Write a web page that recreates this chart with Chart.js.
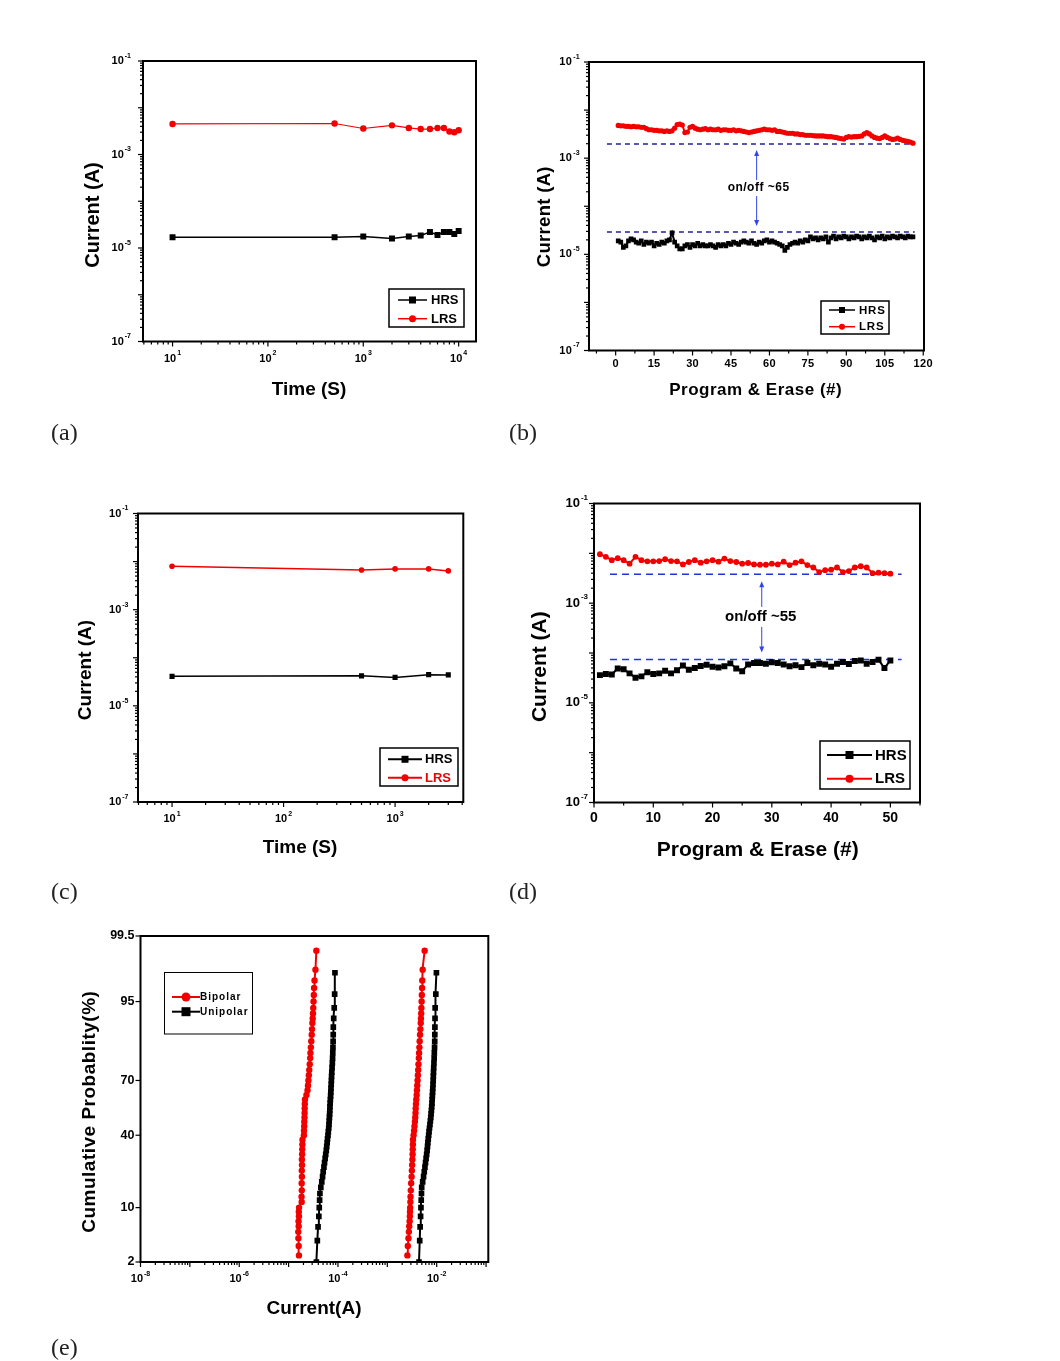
<!DOCTYPE html>
<html>
<head>
<meta charset="utf-8">
<script src="https://cdn.jsdelivr.net/npm/chart.js@4.4.1/dist/chart.umd.min.js"></script>
<style>
  html, body { margin: 0; padding: 0; background: #fff; }
  #page { position: relative; width: 1060px; height: 1361px; overflow: hidden; background: #fff; }
  #page canvas { position: absolute; left: 0; top: 0; }
  .tag { position: absolute; font-family: "Liberation Serif", serif; font-size: 24px; line-height: 24px; color: #222; }
</style>
</head>
<body>
<div id="page">
  <canvas id="panelA" width="1060" height="1361"></canvas>
  <canvas id="panelB" width="1060" height="1361"></canvas>
  <canvas id="panelC" width="1060" height="1361"></canvas>
  <canvas id="panelD" width="1060" height="1361"></canvas>
  <canvas id="panelE" width="1060" height="1361"></canvas>
  <div class="tag" style="left:51px;top:420px">(a)</div>
  <div class="tag" style="left:509px;top:420px">(b)</div>
  <div class="tag" style="left:51px;top:879px">(c)</div>
  <div class="tag" style="left:509px;top:879px">(d)</div>
  <div class="tag" style="left:51px;top:1335px">(e)</div>
</div>
<script>
// ---- data ----
// (a) retention, time in s; HRS in 1e-5 A, LRS in 1e-3 A
const timeA = [10, 500, 1000, 2000, 3000, 4000, 5000, 6000, 7000, 8000, 9000, 10000];
const hrsA = [1.7, 1.7, 1.77, 1.6, 1.77, 1.85, 2.2, 1.9, 2.2, 2.2, 2.0, 2.3];
const lrsA = [4.5, 4.6, 3.6, 4.2, 3.7, 3.5, 3.5, 3.7, 3.7, 3.1, 3.0, 3.3];

// (b) endurance, 116 cycles; HRS in 1e-5 A, LRS in 1e-3 A
const hrsB = [
  1.9, 1.8, 1.4, 1.5, 1.9, 2.1, 2.0, 1.8, 1.7, 1.9,
  1.6, 1.8, 1.7, 1.8, 1.5, 1.7, 1.6, 1.8, 1.7, 1.9,
  2.0, 2.8, 1.8, 1.5, 1.3, 1.3, 1.5, 1.6, 1.4, 1.6,
  1.5, 1.7, 1.5, 1.6, 1.5, 1.5, 1.6, 1.5, 1.4, 1.6,
  1.5, 1.6, 1.5, 1.7, 1.6, 1.8, 1.7, 1.6, 1.8, 1.9,
  1.8, 1.7, 1.9, 1.7, 1.6, 1.8, 1.7, 1.9, 2.0, 1.8,
  1.9, 1.8, 1.7, 1.6, 1.5, 1.2, 1.4, 1.6, 1.7, 1.8,
  1.7, 1.9, 1.8, 2.0, 1.9, 2.3, 2.1, 2.2, 2.0, 2.2,
  2.1, 2.3, 1.8, 2.2, 2.4, 2.1, 2.3, 2.2, 2.4, 2.3,
  2.1, 2.3, 2.2, 2.4, 2.3, 2.1, 2.3, 2.2, 2.4, 2.2,
  2.0, 2.3, 2.2, 2.4, 2.1, 2.3, 2.2, 2.4, 2.3, 2.2,
  2.4, 2.3, 2.2, 2.4, 2.3, 2.3,
];
const lrsB = [
  4.8, 4.7, 4.7, 4.6, 4.6, 4.5, 4.6, 4.5, 4.5, 4.4, 4.4,
  4.1, 3.9, 3.9, 3.8, 3.8, 3.7, 3.7, 3.6, 3.7, 3.6, 3.7,
  4.2, 5.0, 5.1, 4.9, 3.4, 3.5, 4.4, 4.6, 4.2,
  4.0, 3.9, 4.0, 4.1, 3.9, 4.0, 3.9, 3.9, 4.0, 3.8, 3.9, 3.9, 3.8, 3.8, 3.9, 3.7, 3.8, 3.7, 3.6,
  3.5, 3.4, 3.5, 3.6, 3.7,
  3.8, 3.9, 4.0, 3.9, 3.9, 3.8, 3.9,
  3.6, 3.6, 3.5, 3.4, 3.3, 3.3, 3.3, 3.2,
  3.2, 3.1, 3.1, 3.0, 3.0, 3.0, 2.95, 2.9, 2.9, 2.9,
  2.9, 2.85, 2.8, 2.8, 2.75, 2.7, 2.6, 2.55, 2.5,
  2.7, 2.8, 2.75, 2.8, 2.8, 2.85, 2.9,
  3.2, 3.4, 3.2,
  2.9, 2.7, 2.6, 2.55, 2.7,
  2.9, 2.7, 2.55, 2.45,
  2.5, 2.6, 2.45, 2.35,
  2.3, 2.25, 2.15, 2.05,
];
const onLevelB = 1.96e-3;
const offLevelB = 2.9e-5;
const guideSpanB = [-3.4, 116.7];
const arrowXB = 55;

// (c) retention; HRS in 1e-5 A, LRS in 1e-3 A
const timeC = [10, 500, 1000, 2000, 3000];
const hrsC = [4.1, 4.2, 3.9, 4.45, 4.4];
const lrsC = [8.0, 6.7, 7.05, 7.05, 6.4];

// (d) endurance, 50 cycles; HRS in 1e-5 A, LRS in 1e-3 A
const hrsD = [
  3.6, 3.8, 3.7, 4.9, 4.7, 3.9, 3.2, 3.4, 4.1, 3.8,
  3.9, 4.4, 3.9, 4.5, 5.6, 4.6, 5.0, 5.5, 5.8, 5.3,
  5.1, 5.4, 6.2, 4.9, 4.3, 5.9, 6.3, 6.3, 6.1, 6.5,
  6.3, 5.9, 5.4, 5.7, 5.2, 6.3, 5.7, 6.1, 5.9, 5.3,
  6.1, 6.6, 6.0, 6.9, 7.1, 6.1, 6.6, 7.3, 5.0, 7.1,
];
const lrsD = [
  9.6, 8.5, 7.3, 8.0, 7.3, 6.2, 8.5, 7.3, 6.9, 6.9,
  7.0, 7.6, 7.0, 6.9, 6.0, 6.7, 7.3, 6.5, 6.9, 7.3,
  6.8, 7.85, 7.0, 6.7, 6.2, 6.4, 6.0, 5.9, 5.9, 6.2,
  6.0, 6.8, 5.8, 6.5, 6.9, 5.8, 5.2, 4.2, 4.6, 4.7,
  5.2, 4.2, 4.4, 5.2, 5.5, 5.2, 4.0, 4.1, 4.0, 3.9,
];
const onLevelD = 3.8e-3;
const offLevelD = 7.4e-5;
const guideSpanD = [2.7, 51.9];
const arrowXD = 28.3;

// (e) cumulative probability (%) vs current
const probRed = [2.5, 3.4, 4.3, 5.2, 6.1, 7, 8, 9, 10, 11.5, 13, 15, 17.5, 20, 22.5, 25, 27.5, 30, 32.5, 35,
  37.5, 40, 42.5, 45, 47.5, 50, 52.5, 55, 57.5, 60, 62.5, 65, 67.5, 70, 72.5, 75, 77.5, 80, 82, 84,
  86, 88, 89.5, 91, 92, 93, 94, 95, 95.9, 96.7, 97.4, 98.2, 99.1];
const bipolarHighE = [1.62, 1.6, 1.58, 1.57, 1.6, 1.59, 1.62, 1.61, 1.63, 1.84, 1.83, 1.85, 1.84, 1.86, 1.85, 1.87, 1.86, 1.88, 1.89, 1.9,
  1.91, 2.04, 2.05, 2.07, 2.08, 2.1, 2.11, 2.12, 2.13, 2.15, 2.3, 2.42, 2.47, 2.52, 2.57, 2.62, 2.68, 2.74, 2.77, 2.83,
  2.88, 2.94, 2.98, 3.03, 3.08, 3.12, 3.16, 3.2, 3.24, 3.28, 3.35, 3.5, 3.65]; // 1e-5 A
const bipolarLowE = [2.55, 2.6, 2.68, 2.73, 2.78, 2.83, 2.86, 2.88, 2.9, 2.93, 2.95, 2.99, 3.04, 3.1, 3.14, 3.18, 3.22, 3.25, 3.27, 3.29,
  3.31, 3.4, 3.48, 3.55, 3.62, 3.68, 3.72, 3.75, 3.8, 3.86, 3.93, 3.98, 4.04, 4.1, 4.16, 4.22, 4.28, 4.35, 4.4, 4.46,
  4.52, 4.6, 4.68, 4.75, 4.8, 4.85, 4.9, 4.95, 5.0, 5.05, 5.1, 5.2, 5.7]; // 1e-3 A
const probBlack = [2, 4, 6, 8, 10, 12, 14, 16, 18, 20, 22, 24, 26, 28, 30, 32, 34, 36, 38, 40, 42, 44, 46, 48, 50,
  52, 54, 56, 58, 60, 62, 64, 66, 68, 70, 72, 74, 76, 78, 80, 82, 84, 86, 88, 90, 92, 94, 96, 98];
const unipolarHighE = [3.65, 3.82, 3.95, 4.1, 4.18, 4.25, 4.31, 4.5, 4.7, 4.88, 5.02, 5.2, 5.35, 5.5, 5.65, 5.8, 5.92, 6.05, 6.15, 6.28,
  6.38, 6.5, 6.58, 6.65, 6.72, 6.78, 6.84, 6.88, 6.95, 7.02, 7.1, 7.16, 7.22, 7.3, 7.36, 7.42, 7.5, 7.6, 7.7, 7.78,
  7.85, 7.92, 7.98, 8.02, 8.05, 8.2, 8.4, 8.57, 8.69]; // 1e-5 A
const unipolarLowE = [4.38, 4.53, 4.62, 4.72, 4.8, 4.86, 4.92, 4.97, 5.2, 5.42, 5.6, 5.78, 5.94, 6.1, 6.26, 6.4, 6.52, 6.62, 6.75, 6.88,
  7.0, 7.15, 7.3, 7.45, 7.58, 7.7, 7.82, 7.93, 8.02, 8.1, 8.18, 8.26, 8.33, 8.42, 8.5, 8.55, 8.62, 8.7, 8.8, 8.88,
  8.95, 9.05, 9.12, 9.16, 9.2, 9.25, 9.3, 9.6, 9.87]; // 1e-3 A

// tick labels
const currentTicks = [1e-7, 1e-5, 1e-3, 1e-1];
const timeTicksA = [10, 100, 1000, 10000];
const timeTicksC = [10, 100, 1000];
const cycleTicksB = [0, 15, 30, 45, 60, 75, 90, 105, 120];
const cycleTicksD = [0, 10, 20, 30, 40, 50];
const probTicks = [2, 10, 40, 70, 95, 99.5];
const currentTicksE = [1e-8, 1e-6, 1e-4, 1e-2];

// ---- helpers ----
const RED = "#f20000";
const FONT = '"Liberation Sans", Arial, sans-serif';

// inverse normal CDF (Acklam), used for the probability axis
function probit(p) {
  const a = [-39.69683028665376, 220.9460984245205, -275.9285104469687, 138.357751867269, -30.66479806614716, 2.506628277459239];
  const b = [-54.47609879822406, 161.5858368580409, -155.6989798598866, 66.80131188771972, -13.28068155288572];
  const c = [-0.007784894002430293, -0.3223964580411365, -2.400758277161838, -2.549732539343734, 4.374664141464968, 2.938163982698783];
  const d = [0.007784695709041462, 0.3224671290700398, 2.445134137142996, 3.754408661907416];
  const tail = (q) => (((((c[0] * q + c[1]) * q + c[2]) * q + c[3]) * q + c[4]) * q + c[5]) /
    ((((d[0] * q + d[1]) * q + d[2]) * q + d[3]) * q + 1);
  if (p < 0.02425) return tail(Math.sqrt(-2 * Math.log(p)));
  if (p > 1 - 0.02425) return -tail(Math.sqrt(-2 * Math.log(1 - p)));
  const q = p - 0.5;
  const r = q * q;
  return (((((a[0] * r + a[1]) * r + a[2]) * r + a[3]) * r + a[4]) * r + a[5]) * q /
    (((((b[0] * r + b[1]) * r + b[2]) * r + b[3]) * r + b[4]) * r + 1);
}

function logTicks(min, max, labelled) {
  const out = [];
  for (let e = Math.floor(Math.log10(min)); e <= Math.ceil(Math.log10(max)); e++) {
    for (let k = 1; k <= 9; k++) {
      const v = k * Math.pow(10, e);
      if (v < min * 0.999 || v > max * 1.001) continue;
      const t = { value: v, major: k === 1 };
      if (k === 1 && labelled.some((l) => Math.round(Math.log10(l)) === e)) {
        t.text = "10";
        t.sup = String(e);
      }
      out.push(t);
    }
  }
  return out;
}

function linTicks(min, max, minor, labelled) {
  const out = [];
  for (let v = Math.ceil(min / minor) * minor; v <= max + 1e-9; v += minor) {
    const val = Math.round(v * 1000) / 1000 + 0;
    const lab = labelled.includes(val);
    out.push({ value: val, major: lab, text: lab ? String(val) : undefined });
  }
  return out;
}

// hidden library scales: they map values, the decor plugin draws ticks
const logAxis = (min, max, labelled) => ({
  type: "logarithmic",
  display: false,
  min: min,
  max: max,
  ticks: { autoSkip: false },
  afterBuildTicks: (s) => { s.ticks = logTicks(min, max, labelled); },
});

const linAxis = (min, max, minor, labelled) => ({
  type: "linear",
  display: false,
  min: min,
  max: max,
  ticks: { autoSkip: false },
  afterBuildTicks: (s) => { s.ticks = linTicks(min, max, minor, labelled); },
});

const probAxis = () => ({
  type: "linear",
  display: false,
  min: probit(probTicks[0] / 100),
  max: probit(probTicks[probTicks.length - 1] / 100),
  ticks: { autoSkip: false },
  afterBuildTicks: (s) => {
    s.ticks = probTicks.map((p) => ({ value: probit(p / 100), major: true, text: String(p) }));
  },
});

const look = (color, style, width, radius) => ({
  borderColor: color,
  backgroundColor: color,
  pointBackgroundColor: color,
  pointBorderColor: color,
  pointBorderWidth: 0,
  pointStyle: style,
  borderWidth: width,
  pointRadius: radius,
  tension: 0,
});

const series = (label, xs, ys, unit, style) => ({
  label: label,
  data: xs.map((x, i) => ({ x: x, y: ys[i] * unit })),
  ...style,
});

const cycles = (values) => values.map((_, i) => i + 1);

const probSeries = (label, probs, currents, unit, style) => ({
  label: label,
  data: probs.map((p, i) => ({ x: currents[i] * unit, y: probit(p / 100) })),
  ...style,
});

const guide = (span, level, color, dash) => ({
  label: "",
  data: [{ x: span[0], y: level }, { x: span[1], y: level }],
  borderColor: color,
  borderDash: dash,
  borderWidth: 1.5,
  pointRadius: 0,
});

function tickText(ctx, t, x, y, align, font, o) {
  ctx.font = font;
  ctx.letterSpacing = o.tickSpacing || "0px";
  const wb = ctx.measureText(t.text).width;
  let ws = 0;
  if (t.sup) {
    ctx.font = o.supFont;
    ws = ctx.measureText(t.sup).width + 1;
  }
  const start = align === "right" ? x - wb - ws : x - (wb + ws) / 2;
  ctx.textAlign = "left";
  ctx.textBaseline = "middle";
  ctx.fillStyle = "#000";
  ctx.font = font;
  ctx.fillText(t.text, start, y);
  if (t.sup) {
    ctx.font = o.supFont;
    ctx.fillText(t.sup, start + wb + 1, y - o.supRise);
  }
  ctx.letterSpacing = "0px";
}

function marker(ctx, style, x, y, size, color) {
  ctx.fillStyle = color;
  ctx.beginPath();
  if (style === "rect") ctx.rect(x - size / 2, y - size / 2, size, size);
  else ctx.arc(x, y, size / 2, 0, Math.PI * 2);
  ctx.fill();
}

function drawArrow(chart, ar) {
  const ctx = chart.ctx;
  const px = chart.scales.x.getPixelForValue(ar.x);
  const yTop = chart.scales.y.getPixelForValue(ar.upper);
  const yBot = chart.scales.y.getPixelForValue(ar.lower);
  const mid = (yTop + yBot) / 2;
  const t0 = yTop + ar.inset;
  const t1 = yBot - ar.inset;
  ctx.strokeStyle = ar.color;
  ctx.fillStyle = ar.color;
  ctx.lineWidth = 1;
  ctx.beginPath();
  ctx.moveTo(px, t0 + 4);
  ctx.lineTo(px, mid - ar.gap);
  ctx.moveTo(px, mid + ar.gap);
  ctx.lineTo(px, t1 - 4);
  ctx.stroke();
  ctx.beginPath();
  ctx.moveTo(px, t0);
  ctx.lineTo(px - 2.5, t0 + 6);
  ctx.lineTo(px + 2.5, t0 + 6);
  ctx.closePath();
  ctx.fill();
  ctx.beginPath();
  ctx.moveTo(px, t1);
  ctx.lineTo(px - 2.5, t1 - 6);
  ctx.lineTo(px + 2.5, t1 - 6);
  ctx.closePath();
  ctx.fill();
  ctx.fillStyle = "#000";
  ctx.font = ar.font;
  ctx.letterSpacing = ar.spacing || "0px";
  ctx.textAlign = "center";
  ctx.textBaseline = "middle";
  ctx.fillText(ar.text, px + ar.dx, mid);
  ctx.letterSpacing = "0px";
}

// frame, ticks, tick labels, titles, legend box and annotation
const decor = {
  id: "decor",
  afterDraw(chart, args, o) {
    const ctx = chart.ctx;
    const a = chart.chartArea;
    ctx.save();
    if (o.arrow) drawArrow(chart, o.arrow);

    ctx.strokeStyle = "#000";
    ctx.lineWidth = 2;
    ctx.strokeRect(a.left, a.top, a.right - a.left, a.bottom - a.top);

    ["x", "y"].forEach((id) => {
      const s = chart.scales[id];
      const horiz = id === "x";
      s.ticks.forEach((t) => {
        const p = s.getPixelForValue(t.value);
        const len = t.major ? 5 : 3;
        ctx.strokeStyle = "#000";
        ctx.lineWidth = 1.2;
        ctx.beginPath();
        if (horiz) {
          ctx.moveTo(p, a.bottom);
          ctx.lineTo(p, a.bottom + len);
        } else {
          ctx.moveTo(a.left, p);
          ctx.lineTo(a.left - len, p);
        }
        ctx.stroke();
        if (t.text !== undefined) {
          if (horiz) tickText(ctx, t, p, a.bottom + o.xGap, "center", o.xFont, o);
          else tickText(ctx, t, a.left - o.yGap, p, "right", o.yFont, o);
        }
      });
    });

    (o.titles || []).forEach((tt) => {
      ctx.save();
      ctx.translate(tt.x, tt.y);
      if (tt.rot) ctx.rotate(-Math.PI / 2);
      ctx.font = tt.font;
      ctx.letterSpacing = tt.spacing || "0px";
      ctx.fillStyle = "#000";
      ctx.textAlign = "center";
      ctx.textBaseline = "middle";
      ctx.fillText(tt.text, 0, 0);
      ctx.restore();
    });

    const lg = o.legend;
    if (lg) {
      ctx.strokeStyle = "#000";
      ctx.lineWidth = lg.frame;
      ctx.strokeRect(lg.box[0], lg.box[1], lg.box[2], lg.box[3]);
      lg.rows.forEach((row) => {
        const ds = chart.data.datasets[row.ds];
        ctx.strokeStyle = ds.borderColor;
        ctx.lineWidth = lg.line;
        ctx.beginPath();
        ctx.moveTo(lg.x0, row.y);
        ctx.lineTo(lg.x1, row.y);
        ctx.stroke();
        marker(ctx, ds.pointStyle, (lg.x0 + lg.x1) / 2, row.y, lg.size, ds.pointBackgroundColor);
        ctx.fillStyle = row.color || "#000";
        ctx.font = lg.font;
        ctx.letterSpacing = lg.spacing || "0px";
        ctx.textAlign = "left";
        ctx.textBaseline = "middle";
        ctx.fillText(ds.label, lg.tx, row.y + 0.5);
        ctx.letterSpacing = "0px";
      });
    }
    ctx.restore();
  },
};

// chart area given as page pixels [left, top, right, bottom]
const makePanel = (id, area, datasets, x, y, extras) => new Chart(document.getElementById(id), {
  type: "line",
  data: { datasets: datasets },
  options: {
    responsive: false,
    animation: false,
    events: [],
    layout: { padding: { left: area[0], top: area[1], right: 1060 - area[2], bottom: 1361 - area[3] } },
    plugins: { legend: { display: false }, tooltip: { enabled: false }, decor: extras },
    scales: { x: x, y: y },
  },
  plugins: [decor],
});

const small = { xFont: "bold 11px " + FONT, yFont: "bold 11px " + FONT, supFont: "bold 7px " + FONT, supRise: 5 };

// (a)
makePanel("panelA", [143, 61, 476, 341.5], [
  series("HRS", timeA, hrsA, 1e-5, look("#000", "rect", 1.5, 4.2)),
  series("LRS", timeA, lrsA, 1e-3, look(RED, "circle", 1.2, 3.2)),
], logAxis(4.9, 15200, timeTicksA), logAxis(1e-7, 1e-1, currentTicks), {
  ...small, xGap: 17, yGap: 12,
  titles: [
    { text: "Current (A)", x: 93, y: 215, rot: true, font: "bold 20px " + FONT },
    { text: "Time (S)", x: 309, y: 390, font: "bold 19px " + FONT },
  ],
  legend: { box: [389, 289, 75, 38], frame: 1.5, line: 1.5, size: 7, x0: 398, x1: 427, tx: 431,
    font: "bold 13px " + FONT, rows: [{ ds: 0, y: 300 }, { ds: 1, y: 318.7 }] },
});

// (b)
makePanel("panelB", [589, 62, 924, 350.5], [
  series("HRS", cycles(hrsB), hrsB, 1e-5, look("#000", "rect", 2, 3.3)),
  series("LRS", cycles(lrsB), lrsB, 1e-3, look(RED, "circle", 2, 2.6)),
  guide(guideSpanB, onLevelB, "#22229a", [5, 4]),
  guide(guideSpanB, offLevelB, "#22229a", [5, 4]),
], linAxis(-10.4, 120.3, 7.5, cycleTicksB), logAxis(1e-7, 1e-1, currentTicks), {
  ...small, xGap: 13, yGap: 9, tickSpacing: "0.3px",
  titles: [
    { text: "Current (A)", x: 545, y: 216.7, rot: true, font: "bold 18.5px " + FONT, spacing: "0.3px" },
    { text: "Program & Erase (#)", x: 755.7, y: 390.7, font: "bold 17px " + FONT, spacing: "0.5px" },
  ],
  legend: { box: [821, 301, 68, 33], frame: 1.5, line: 1.5, size: 6, x0: 829, x1: 855, tx: 859,
    font: "bold 11.5px " + FONT, spacing: "0.8px", rows: [{ ds: 0, y: 310 }, { ds: 1, y: 326.7 }] },
  arrow: { x: arrowXB, upper: onLevelB, lower: offLevelB, inset: 6, gap: 8, dx: 2, color: "#3344ee",
    text: "on/off ~65", font: "bold 12px " + FONT, spacing: "0.5px" },
});

// (c)
makePanel("panelC", [138, 513.5, 463.3, 802], [
  series("HRS", timeC, hrsC, 1e-5, look("#000", "rect", 1.5, 3.6)),
  series("LRS", timeC, lrsC, 1e-3, look(RED, "circle", 1.5, 2.8)),
], logAxis(4.95, 4090, timeTicksC), logAxis(1e-7, 1e-1, currentTicks), {
  ...small, xGap: 17, yGap: 9.5,
  titles: [
    { text: "Current (A)", x: 86, y: 670, rot: true, font: "bold 19px " + FONT },
    { text: "Time (S)", x: 300, y: 847.7, font: "bold 19px " + FONT },
  ],
  legend: { box: [380, 748, 78, 38], frame: 1.5, line: 2, size: 7, x0: 388, x1: 422, tx: 425,
    font: "bold 13px " + FONT, rows: [{ ds: 0, y: 759.3 }, { ds: 1, y: 777.7, color: RED }] },
});

// (d)
makePanel("panelD", [594, 503.5, 920, 802.5], [
  series("HRS", cycles(hrsD), hrsD, 1e-5, look("#000", "rect", 2, 4.2)),
  series("LRS", cycles(lrsD), lrsD, 1e-3, look(RED, "circle", 2, 2.9)),
  guide(guideSpanD, onLevelD, "#2233dd", [7, 5]),
  guide(guideSpanD, offLevelD, "#2233dd", [7, 5]),
], linAxis(0, 55, 5, cycleTicksD), logAxis(1e-7, 1e-1, currentTicks), {
  xFont: "bold 14px " + FONT, yFont: "bold 13px " + FONT, supFont: "bold 8px " + FONT, supRise: 6,
  xGap: 16, yGap: 6,
  titles: [
    { text: "Current (A)", x: 540.7, y: 666.7, rot: true, font: "bold 21px " + FONT },
    { text: "Program & Erase (#)", x: 757.7, y: 850.7, font: "bold 21px " + FONT },
  ],
  legend: { box: [820, 741, 90, 48], frame: 1.5, line: 2, size: 8, x0: 827, x1: 872, tx: 875,
    font: "bold 15px " + FONT, rows: [{ ds: 0, y: 755 }, { ds: 1, y: 778.7 }] },
  arrow: { x: arrowXD, upper: onLevelD, lower: offLevelD, inset: 7, gap: 10, dx: -1, color: "#3344ee",
    text: "on/off ~55", font: "bold 15px " + FONT },
});

// (e)
makePanel("panelE", [140.5, 936, 488.3, 1262], [
  probSeries("Bipolar", probRed, bipolarHighE, 1e-5, look(RED, "circle", 2, 3.2)),
  probSeries("Unipolar", probBlack, unipolarHighE, 1e-5, look("#000", "rect", 2, 4)),
  probSeries("Bipolar", probRed, bipolarLowE, 1e-3, look(RED, "circle", 2, 3.2)),
  probSeries("Unipolar", probBlack, unipolarLowE, 1e-3, look("#000", "rect", 2, 4)),
], logAxis(1e-8, 0.111, currentTicksE), probAxis(), {
  xFont: "bold 11px " + FONT, yFont: "bold 12.5px " + FONT, supFont: "bold 7px " + FONT, supRise: 5,
  xGap: 17, yGap: 6,
  titles: [
    { text: "Cumulative Probablity(%)", x: 89.3, y: 1111.7, rot: true, font: "bold 19px " + FONT, spacing: "0.5px" },
    { text: "Current(A)", x: 314, y: 1308.3, font: "bold 19px " + FONT },
  ],
  legend: { box: [164.5, 972.5, 88, 61.5], frame: 1, line: 2, size: 9, x0: 172, x1: 200, tx: 200,
    font: "bold 10px " + FONT, spacing: "1px", rows: [{ ds: 0, y: 997 }, { ds: 1, y: 1011.7 }] },
});
</script>
</body>
</html>
